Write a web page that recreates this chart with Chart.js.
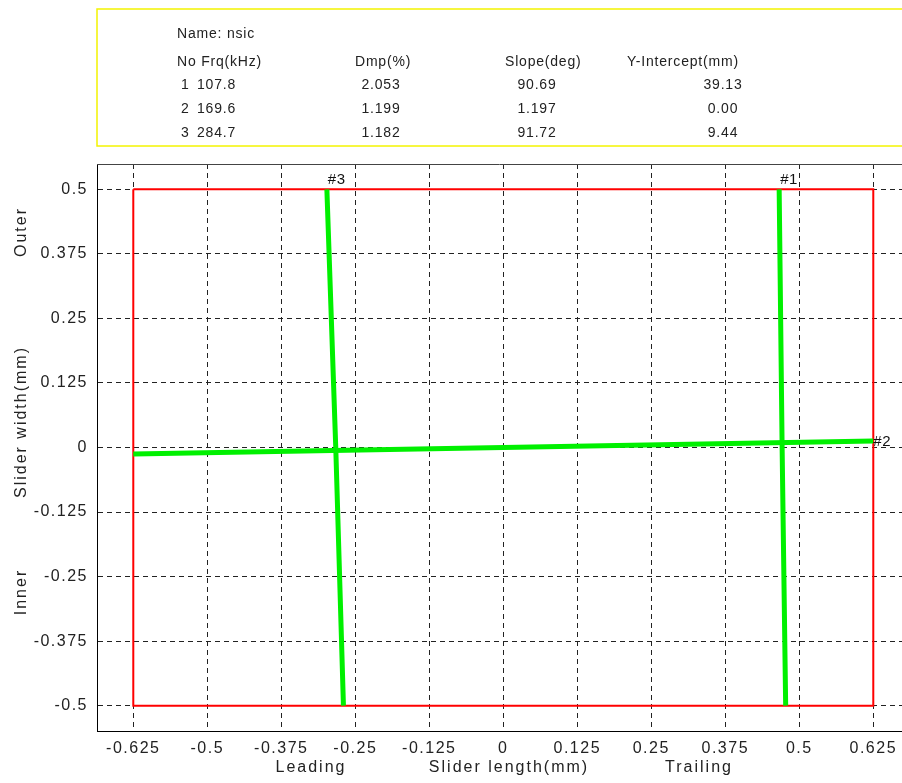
<!DOCTYPE html>
<html>
<head>
<meta charset="utf-8">
<script src="https://cdn.jsdelivr.net/npm/chart.js@4.4.1/dist/chart.umd.min.js"></script>
<style>
  html, body { margin: 0; padding: 0; background: #fff; }
  #modeChart { display: block; }
</style>
</head>
<body>
<canvas id="modeChart" width="902" height="783"></canvas>
<script>
// axis ticks
const xTicks = [-0.625, -0.5, -0.375, -0.25, -0.125, 0, 0.125, 0.25, 0.375, 0.5, 0.625];
const yTicks = [-0.5, -0.375, -0.25, -0.125, 0, 0.125, 0.25, 0.375, 0.5];

// slider outline
const rectX = [-0.625, 0.625, 0.625, -0.625, -0.625];
const rectY = [0.5, 0.5, -0.5, -0.5, 0.5];

// node lines
const mode1X = [0.466, 0.471, 0.477];
const mode1Y = [0.5, 0, -0.5];
const mode2X = [-0.625, 0, 0.625];
const mode2Y = [-0.0126, 0, 0.0126];
const mode3X = [-0.298, -0.283, -0.270];
const mode3Y = [0.5, 0, -0.5];
const modeNames = ['#1', '#2', '#3'];

// header table
const sliderName = 'nsic';
const modeNo = ['1', '2', '3'];
const freqKHz = ['107.8', '169.6', '284.7'];
const dampPct = ['2.053', '1.199', '1.182'];
const slopeDeg = ['90.69', '1.197', '91.72'];
const interceptMm = ['39.13', '0.00', '9.44'];

const FONT = '"Liberation Sans", Arial, sans-serif';
const toPts = (xs, ys) => xs.map((x, i) => ({ x: x, y: ys[i] }));

// header box, side labels and node labels
const decorations = {
    id: 'decorations',
    beforeDraw(chart) {
        chart.ctx.letterSpacing = '1.5px';
    },
    afterDraw(chart) {
        const ctx = chart.ctx;
        const area = chart.chartArea;
        ctx.save();

        // top frame line of the plot
        ctx.strokeStyle = '#444';
        ctx.lineWidth = 1;
        ctx.beginPath();
        ctx.moveTo(area.left, area.top + 0.5);
        ctx.lineTo(area.right, area.top + 0.5);
        ctx.stroke();

        // yellow info box
        ctx.strokeStyle = '#f4f400';
        ctx.lineWidth = 1.5;
        ctx.strokeRect(97, 9, 820, 137);

        ctx.fillStyle = '#222';
        ctx.font = '14px ' + FONT;
        ctx.letterSpacing = '0.8px';
        ctx.textBaseline = 'middle';
        ctx.textAlign = 'left';
        ctx.fillText('Name: ' + sliderName, 177, 34);
        ctx.fillText('No Frq(kHz)', 177, 62);
        ctx.fillText('Dmp(%)', 355, 62);
        ctx.fillText('Slope(deg)', 505, 62);
        ctx.fillText('Y-Intercept(mm)', 627, 62);
        const rowY = [85, 109, 133];
        modeNo.forEach((n, i) => {
            ctx.textAlign = 'left';
            ctx.fillText(n, 181, rowY[i]);
            ctx.fillText(freqKHz[i], 197, rowY[i]);
            ctx.textAlign = 'center';
            ctx.fillText(dampPct[i], 381, rowY[i]);
            ctx.fillText(slopeDeg[i], 537, rowY[i]);
            ctx.fillText(interceptMm[i], 723, rowY[i]);
        });

        // axis titles and side labels
        ctx.font = '16px ' + FONT;
        ctx.letterSpacing = '2px';
        ctx.textAlign = 'center';
        ctx.fillText('Leading', 311, 768);
        ctx.fillText('Slider length(mm)', 509, 768);
        ctx.fillText('Trailing', 699, 768);
        const vert = (txt, x, y) => {
            ctx.save();
            ctx.translate(x, y);
            ctx.rotate(-Math.PI / 2);
            ctx.fillText(txt, 0, 0);
            ctx.restore();
        };
        vert('Outer', 22, 232);
        vert('Slider width(mm)', 22, 422);
        vert('Inner', 22, 592);

        // node labels
        ctx.font = '15px ' + FONT;
        ctx.letterSpacing = '0.5px';
        ctx.fillStyle = '#111';
        const tops = [1, 3];
        tops.forEach(ds => {
            const p = chart.getDatasetMeta(ds).data[0];
            ctx.textAlign = 'left';
            ctx.textBaseline = 'bottom';
            ctx.fillText(modeNames[ds - 1], p.x + 1, p.y - 2);
        });
        const m2 = chart.getDatasetMeta(2).data;
        const end = m2[m2.length - 1];
        ctx.textAlign = 'left';
        ctx.textBaseline = 'middle';
        ctx.fillText(modeNames[1], end.x, end.y + 1);

        ctx.restore();
    }
};

const axisTicks = {
    color: '#222',
    font: { family: FONT, size: 16 },
    padding: 8,
    autoSkip: false,
    maxRotation: 0,
    callback: v => String(v)
};

new Chart(document.getElementById('modeChart').getContext('2d'), {
    type: 'scatter',
    data: {
        datasets: [
            {
                label: 'outline',
                data: toPts(rectX, rectY),
                showLine: true,
                borderColor: '#ff0000',
                borderWidth: 2,
                pointRadius: 0,
                order: 2
            },
            {
                label: modeNames[0],
                data: toPts(mode1X, mode1Y),
                showLine: true,
                borderColor: '#00f000',
                borderWidth: 5,
                pointRadius: 0,
                order: 1
            },
            {
                label: modeNames[1],
                data: toPts(mode2X, mode2Y),
                showLine: true,
                borderColor: '#00f000',
                borderWidth: 5,
                pointRadius: 0,
                order: 1
            },
            {
                label: modeNames[2],
                data: toPts(mode3X, mode3Y),
                showLine: true,
                borderColor: '#00f000',
                borderWidth: 5,
                pointRadius: 0,
                order: 1
            }
        ]
    },
    options: {
        responsive: false,
        animation: false,
        devicePixelRatio: 1,
        layout: { padding: { top: 164, left: 0, right: 0, bottom: 0 } },
        plugins: {
            legend: { display: false },
            tooltip: { enabled: false }
        },
        scales: {
            x: {
                type: 'linear',
                min: -0.6863,
                max: 0.6735,
                afterBuildTicks: s => { s.ticks = xTicks.map(v => ({ value: v })); },
                afterFit: s => { s.height = 52; },
                grid: { color: '#222', lineWidth: 1, drawTicks: false },
                border: { display: true, color: '#000', width: 1, dash: [5, 4] },
                ticks: axisTicks
            },
            y: {
                type: 'linear',
                min: -0.5491,
                max: 0.5491,
                afterBuildTicks: s => { s.ticks = yTicks.map(v => ({ value: v })); },
                afterFit: s => { s.width = 97; },
                grid: { color: '#222', lineWidth: 1, drawTicks: false },
                border: { display: true, color: '#000', width: 1, dash: [5, 4] },
                ticks: Object.assign({}, axisTicks, { padding: 9 })
            }
        }
    },
    plugins: [decorations]
});
</script>
</body>
</html>
